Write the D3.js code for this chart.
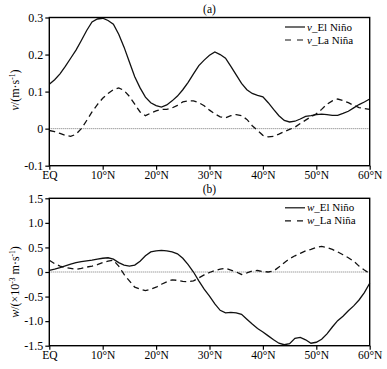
<!DOCTYPE html>
<html><head><meta charset="utf-8">
<script src="https://cdn.jsdelivr.net/npm/d3@7"></script>
<style>body{margin:0;background:#fff}svg{display:block}text{font-family:"Liberation Serif","Times New Roman",serif;fill:#000}</style>
</head><body>
<svg id="c" width="387" height="369"></svg>
<script>
const lats = d3.range(0, 61, 1);
const vElNino = [0.12,0.132,0.148,0.168,0.19,0.212,0.238,0.265,0.288,0.296,0.298,0.292,0.282,0.255,0.22,0.18,0.14,0.11,0.085,0.07,0.062,0.058,0.064,0.075,0.088,0.105,0.125,0.148,0.17,0.185,0.198,0.207,0.2,0.19,0.168,0.145,0.122,0.105,0.095,0.09,0.086,0.07,0.052,0.035,0.022,0.018,0.02,0.026,0.033,0.035,0.038,0.039,0.038,0.036,0.036,0.041,0.047,0.056,0.065,0.072,0.08];
const vLaNina = [-0.005,-0.008,-0.013,-0.018,-0.021,-0.015,0.0,0.022,0.045,0.065,0.082,0.095,0.105,0.11,0.103,0.087,0.066,0.045,0.035,0.042,0.048,0.052,0.052,0.056,0.063,0.072,0.075,0.075,0.07,0.062,0.05,0.04,0.032,0.029,0.035,0.038,0.035,0.025,0.008,-0.005,-0.018,-0.022,-0.021,-0.015,-0.008,-0.002,0.004,0.014,0.023,0.032,0.04,0.052,0.066,0.075,0.08,0.076,0.07,0.063,0.057,0.054,0.052];
const wElNino = [0.034,0.06,0.09,0.125,0.16,0.19,0.21,0.225,0.24,0.26,0.28,0.29,0.26,0.19,0.14,0.12,0.14,0.22,0.33,0.41,0.43,0.44,0.43,0.41,0.37,0.28,0.15,0.0,-0.18,-0.35,-0.49,-0.65,-0.78,-0.83,-0.82,-0.83,-0.86,-0.96,-1.06,-1.15,-1.22,-1.3,-1.38,-1.45,-1.48,-1.46,-1.35,-1.33,-1.38,-1.45,-1.43,-1.37,-1.26,-1.12,-0.99,-0.9,-0.79,-0.69,-0.57,-0.42,-0.23];
const wLaNina = [0.24,0.17,0.12,0.09,0.075,0.055,0.075,0.1,0.12,0.15,0.19,0.22,0.24,0.12,-0.05,-0.18,-0.31,-0.35,-0.38,-0.35,-0.31,-0.25,-0.2,-0.16,-0.17,-0.19,-0.2,-0.18,-0.12,-0.06,-0.01,0.03,0.06,0.075,0.04,0.0,-0.05,-0.02,0.02,0.03,0.01,0.0,0.02,0.1,0.19,0.27,0.33,0.38,0.43,0.46,0.5,0.52,0.5,0.46,0.41,0.35,0.29,0.22,0.12,0.04,-0.03];
const xTicks = [0,10,20,30,40,50,60];
const xTickLabels = ["EQ","10°N","20°N","30°N","40°N","50°N","60°N"];
const vTicks = [-0.1,0,0.1,0.2,0.3];
const vTickLabels = ["-0.1","0","0.1","0.2","0.3"];
const wTicks = [-1.5,-1,-0.5,0,0.5,1,1.5];
const wTickLabels = ["-1.5","-1.0","-0.5","0","0.5","1.0","1.5"];

const svg = d3.select("#c");
const x = d3.scaleLinear().domain([0,60]).range([49.3,369.7]);

function panel(o){
  const g = svg.append("g");
  const y = d3.scaleLinear().domain(o.domain).range([o.bottom,o.top]);
  g.append("line").attr("x1",x(0)).attr("x2",x(60)).attr("y1",y(0)).attr("y2",y(0))
    .attr("stroke","#777").attr("stroke-width",1).attr("stroke-dasharray","1,1");
  const line = d3.line().x((d,i)=>x(lats[i])).y(d=>y(d));
  g.append("path").datum(o.s1).attr("d",line).attr("fill","none").attr("stroke","#111").attr("stroke-width",1.3);
  g.append("path").datum(o.s2).attr("d",line).attr("fill","none").attr("stroke","#111").attr("stroke-width",1.3).attr("stroke-dasharray","6,4");
  g.append("rect").attr("x",x(0)).attr("y",o.top).attr("width",x(60)-x(0)).attr("height",o.bottom-o.top)
    .attr("fill","none").attr("stroke","#000").attr("stroke-width",1.4);
  const xa = g.append("g").attr("transform",`translate(0,${o.bottom})`)
    .call(d3.axisBottom(x).tickValues(xTicks).tickFormat((d,i)=>xTickLabels[i]).tickSize(4).tickPadding(1.5));
  const ya = g.append("g").attr("transform",`translate(${x(0)},0)`)
    .call(d3.axisLeft(y).tickValues(o.ticks).tickFormat((d,i)=>o.tickLabels[i]).tickSize(4).tickPadding(2));
  [xa,ya].forEach(a=>{
    a.select(".domain").remove();
    a.selectAll("line").attr("stroke","#000").attr("stroke-width",1.2);
    a.selectAll("text").style("font-family","Liberation Serif, serif").attr("fill","#000");
  });
  xa.selectAll("text").style("font-size","11.5px");
  ya.selectAll("text").style("font-size","12px");
  g.append("text").attr("x",209.5).attr("y",o.top-5).attr("text-anchor","middle").style("font-size","11.5px").text(o.title);
  const yl = g.append("text").attr("transform",`translate(19,${o.labelY}) rotate(-90)`).attr("text-anchor","middle").style("font-size","12px");
  o.label(yl);
  const lx = 285, lg = g.append("g");
  [[o.leg1, null, o.top+9.5],[o.leg2,"6,6",o.top+22.5]].forEach(([t,dash,ly])=>{
    lg.append("line").attr("x1",lx).attr("x2",lx+20).attr("y1",ly).attr("y2",ly).attr("stroke","#111").attr("stroke-width",1.2)
      .attr("stroke-dasharray",dash);
    const tx = lg.append("text").attr("x",lx+22).attr("y",ly+3.5).style("font-size","11px");
    tx.append("tspan").style("font-style","italic").text(o.sym);
    tx.append("tspan").text("_"+t);
  });
}

panel({domain:[-0.1,0.3],top:17.5,bottom:165.7,s1:vElNino,s2:vLaNina,ticks:vTicks,tickLabels:vTickLabels,title:"(a)",
  labelY:90,sym:"v",leg1:"El Niño",leg2:"La Niña",
  label:t=>{t.append("tspan").style("font-style","italic").text("v");t.append("tspan").text("/(m·s");
    t.append("tspan").attr("baseline-shift","super").style("font-size","7.5px").text("-1");t.append("tspan").text(")");}});
panel({domain:[-1.5,1.5],top:198.3,bottom:345.7,s1:wElNino,s2:wLaNina,ticks:wTicks,tickLabels:wTickLabels,title:"(b)",
  labelY:282,sym:"w",leg1:"El Niño",leg2:"La Niña",
  label:t=>{t.append("tspan").style("font-style","italic").text("w");t.append("tspan").text("/(×10");
    t.append("tspan").attr("baseline-shift","super").style("font-size","7.5px").text("-3");t.append("tspan").text(" m·s");
    t.append("tspan").attr("baseline-shift","super").style("font-size","7.5px").text("-1");t.append("tspan").text(")");}});
</script>
</body></html>
